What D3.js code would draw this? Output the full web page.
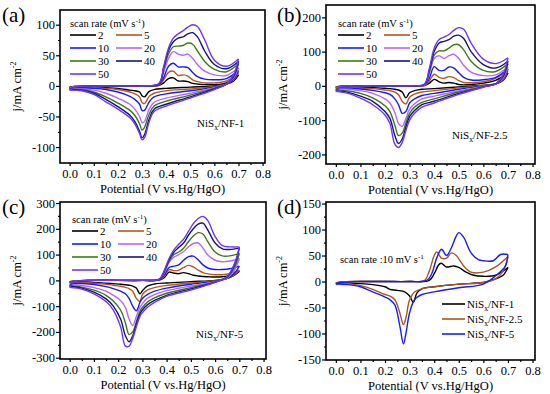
<!DOCTYPE html>
<html>
<head>
<meta charset="utf-8">
<script src="https://cdn.jsdelivr.net/npm/d3@7"></script>
<style>
body { margin: 0; background: #fff; }
svg { display: block; }
svg text { font-family: "Liberation Serif", "Times New Roman", "DejaVu Serif", serif !important; fill: #000; }
</style>
</head>
<body>
<svg id="fig" width="550" height="394"></svg>
<script>
'use strict';
// ---- data (potential in V, current density in mA cm-2) ----
var scanRates = ['2', '5', '10', '20', '30', '40', '50'];
var xTicks = [0, 0.1, 0.2, 0.3, 0.4, 0.5, 0.6, 0.7, 0.8];
var xMinor = [0.05, 0.15, 0.25, 0.35, 0.45, 0.55, 0.65, 0.75];

// (a) NiSx/NF-1
var potFwdA = [0, 0.02, 0.1, 0.2, 0.3, 0.37, 0.39, 0.41, 0.43, 0.45, 0.47, 0.49, 0.51, 0.53, 0.56, 0.6, 0.65, 0.7];
var fwdA = [
    [-2, -1, 0, 0, 0, 1, 5, 12, 13, 8, 8, 7, 4, 3, 2, 2, 5, 18],
    [-3, -1, 0, 0, 0, 1, 10, 22, 24, 17, 18, 16, 10, 7, 5, 5, 8, 22],
    [-3, -1, 0, 0, 0, 2, 14, 32, 37, 31, 31, 30, 22, 15, 11, 10, 12, 25],
    [-4, -1, 0, 0, 0, 3, 22, 45, 56, 52, 50, 52, 45, 35, 24, 18, 17, 30],
    [-5, -2, 0, 0, 0, 3, 27, 52, 64, 65, 66, 70, 68, 57, 40, 27, 23, 36],
    [-6, -2, 0, 0, 0, 3, 30, 58, 72, 78, 80, 85, 87, 80, 57, 35, 28, 40],
    [-7, -2, 0, 0, 0, 4, 32, 62, 78, 85, 90, 96, 100, 97, 75, 42, 32, 44]
];
var potRevA = [0.7, 0.68, 0.65, 0.6, 0.5, 0.4, 0.35, 0.33, 0.31, 0.3, 0.29, 0.27, 0.25, 0.2, 0.15, 0.1, 0.05, 0];
var revA = [
    [18, 8, 3, 0, -2, -4, -6, -9, -18, -16, -10, -8, -7, -4, -3, -2, -2, -2],
    [22, 10, 3, -1, -5, -8, -12, -17, -29, -27, -18, -13, -10, -6, -4, -3, -3, -3],
    [25, 11, 3, -2, -8, -13, -18, -26, -40, -40, -30, -22, -17, -10, -6, -4, -3, -3],
    [30, 13, 3, -3, -12, -20, -27, -38, -58, -60, -50, -38, -30, -20, -12, -7, -5, -4],
    [36, 15, 3, -4, -15, -25, -33, -46, -68, -72, -62, -48, -40, -28, -18, -10, -6, -5],
    [40, 16, 3, -5, -18, -30, -38, -54, -80, -85, -74, -58, -48, -34, -22, -12, -7, -6],
    [44, 18, 3, -6, -20, -33, -42, -58, -85, -88, -78, -62, -52, -38, -26, -14, -8, -7]
];

// (b) NiSx/NF-2.5
var potFwdB = [0, 0.02, 0.1, 0.2, 0.3, 0.36, 0.38, 0.40, 0.42, 0.44, 0.46, 0.48, 0.50, 0.52, 0.55, 0.6, 0.65, 0.7];
var fwdB = [
    [-3, -1, 0, 0, 0, 1, 8, 19, 12, 8, 10, 8, 4, 3, 4, 8, 16, 38],
    [-4, -1, 0, 0, 0, 1, 14, 34, 25, 22, 27, 24, 15, 10, 9, 12, 22, 45],
    [-6, -1, 0, 0, 0, 2, 22, 56, 45, 45, 55, 52, 38, 25, 17, 18, 25, 50],
    [-8, -2, 0, 0, 0, 3, 35, 80, 88, 80, 88, 92, 80, 60, 40, 30, 32, 55],
    [-11, -2, 0, 0, 0, 4, 40, 90, 102, 102, 110, 120, 120, 105, 72, 45, 42, 65],
    [-14, -3, 0, 0, 0, 4, 45, 100, 125, 130, 135, 145, 148, 138, 100, 62, 52, 72],
    [-16, -3, 0, 0, 0, 5, 50, 110, 135, 142, 150, 162, 170, 165, 125, 78, 65, 82]
];
var potRevB = [0.7, 0.68, 0.65, 0.6, 0.5, 0.4, 0.35, 0.32, 0.3, 0.285, 0.27, 0.255, 0.24, 0.22, 0.2, 0.15, 0.1, 0.05, 0];
var revB = [
    [38, 16, 6, 2, -3, -8, -10, -14, -20, -35, -18, -12, -10, -8, -7, -5, -4, -3, -3],
    [45, 18, 6, 1, -6, -14, -18, -24, -33, -53, -45, -26, -18, -14, -12, -8, -6, -5, -4],
    [50, 20, 6, 0, -10, -22, -28, -38, -50, -75, -80, -55, -38, -25, -20, -13, -9, -7, -6],
    [55, 22, 6, -1, -15, -30, -38, -52, -68, -95, -118, -110, -78, -50, -38, -22, -14, -10, -8],
    [65, 26, 6, -2, -18, -38, -48, -62, -80, -108, -138, -145, -115, -75, -58, -35, -22, -15, -11],
    [72, 28, 6, -3, -22, -45, -55, -72, -90, -120, -155, -168, -145, -95, -75, -45, -30, -19, -14],
    [82, 32, 6, -4, -25, -50, -62, -80, -100, -130, -165, -180, -170, -110, -85, -55, -36, -22, -16]
];

// (c) NiSx/NF-5
var potFwdC = [0, 0.02, 0.1, 0.2, 0.3, 0.37, 0.39, 0.41, 0.43, 0.45, 0.47, 0.49, 0.51, 0.53, 0.55, 0.57, 0.6, 0.63, 0.66, 0.7];
var fwdC = [
    [-5, -2, 0, 0, 0, 1, 10, 32, 28, 26, 30, 26, 20, 17, 15, 14, 13, 14, 18, 35],
    [-6, -2, 0, 0, 0, 2, 15, 42, 38, 40, 50, 58, 52, 40, 30, 25, 22, 22, 26, 40],
    [-10, -3, 0, 0, 0, 3, 20, 50, 55, 60, 78, 92, 94, 80, 60, 48, 42, 42, 45, 55],
    [-16, -4, 0, 0, 0, 4, 28, 70, 90, 100, 112, 130, 143, 145, 125, 98, 78, 72, 75, 85],
    [-20, -5, 0, 0, 0, 4, 32, 75, 100, 110, 125, 150, 172, 185, 180, 150, 110, 95, 95, 105],
    [-24, -6, 0, 0, 0, 5, 35, 80, 110, 128, 145, 175, 200, 218, 222, 195, 145, 122, 120, 125],
    [-27, -6, 0, 0, 0, 5, 38, 85, 118, 140, 160, 190, 220, 240, 248, 232, 170, 135, 130, 130]
];
var potRevC = [0.7, 0.68, 0.65, 0.6, 0.5, 0.4, 0.35, 0.32, 0.3, 0.29, 0.275, 0.26, 0.245, 0.23, 0.21, 0.18, 0.15, 0.1, 0.05, 0];
var revC = [
    [35, 20, 8, 0, -5, -10, -14, -22, -40, -52, -30, -22, -19, -17, -15, -13, -11, -8, -6, -5],
    [40, 22, 8, -1, -10, -20, -28, -38, -55, -82, -70, -42, -32, -27, -23, -19, -15, -11, -8, -6],
    [55, 28, 8, -3, -15, -30, -42, -55, -70, -85, -118, -100, -70, -52, -42, -32, -24, -16, -12, -10],
    [85, 40, 10, -5, -22, -40, -55, -70, -90, -105, -140, -175, -150, -105, -78, -58, -42, -28, -20, -16],
    [105, 50, 12, -6, -28, -50, -68, -85, -105, -120, -160, -200, -210, -165, -115, -80, -58, -38, -26, -20],
    [125, 60, 14, -7, -33, -58, -78, -95, -115, -130, -170, -215, -238, -215, -150, -100, -72, -46, -30, -24],
    [130, 65, 15, -8, -38, -62, -85, -105, -125, -140, -180, -225, -255, -255, -180, -115, -82, -52, -34, -27]
];

// (d) 10 mV s-1, three samples
var potFwdD1 = [0, 0.02, 0.1, 0.2, 0.3, 0.38, 0.40, 0.42, 0.43, 0.45, 0.48, 0.50, 0.53, 0.56, 0.6, 0.65, 0.7];
var fwdD1 = [-3, -1, 0, 0, 0, 2, 15, 33, 35, 28, 30, 27, 18, 12, 10, 12, 27];
var potRevD1 = [0.7, 0.68, 0.65, 0.6, 0.5, 0.4, 0.35, 0.33, 0.315, 0.3, 0.28, 0.25, 0.22, 0.2, 0.15, 0.1, 0.05, 0];
var revD1 = [27, 12, 5, -2, -5, -10, -14, -22, -40, -28, -20, -17, -15, -10, -6, -4, -3, -3];
var potFwdD2 = [0, 0.02, 0.1, 0.2, 0.3, 0.36, 0.38, 0.40, 0.41, 0.43, 0.45, 0.47, 0.49, 0.52, 0.55, 0.6, 0.65, 0.7];
var fwdD2 = [-3, -1, 0, 0, 0, 2, 20, 50, 57, 45, 45, 55, 50, 30, 18, 18, 28, 48];
var potRevD2 = [0.7, 0.68, 0.65, 0.6, 0.5, 0.4, 0.35, 0.32, 0.3, 0.285, 0.275, 0.26, 0.24, 0.22, 0.2, 0.15, 0.1, 0.05, 0];
var revD2 = [48, 20, 5, -2, -5, -10, -14, -20, -35, -70, -83, -60, -35, -28, -25, -15, -8, -4, -3];
var potFwdD3 = [0, 0.02, 0.1, 0.2, 0.3, 0.37, 0.39, 0.41, 0.43, 0.45, 0.47, 0.49, 0.50, 0.52, 0.55, 0.58, 0.6, 0.64, 0.67, 0.7];
var fwdD3 = [-5, -2, 0, 0, 0, 2, 15, 45, 62, 50, 65, 88, 94, 85, 55, 42, 40, 40, 52, 52];
var potRevD3 = [0.7, 0.69, 0.66, 0.6, 0.5, 0.4, 0.35, 0.32, 0.3, 0.285, 0.275, 0.26, 0.24, 0.22, 0.2, 0.15, 0.1, 0.05, 0];
var revD3 = [52, 30, 15, -5, -12, -20, -25, -35, -60, -100, -120, -85, -45, -35, -30, -20, -10, -6, -5];
var sampleSuffix = ['/NF-1', '/NF-2.5', '/NF-5'];

// ---- styles ----
var rateColors = ['#000000', '#b4581c', '#1a1aff', '#b866ff', '#3d7a12', '#14147e', '#6f35ff'];
var sampleColors = ['#000000', '#a8581a', '#1a1aff'];

var svg = d3.select('#fig');

function rateCurves(pf, fwd, pr, rev) {
    return scanRates.map(function (r, i) {
        return { color: rateColors[i], fE: pf, fJ: fwd[i], rE: pr, rJ: rev[i] };
    });
}

function niS(sel, suffix) {
    sel.append('tspan').text('NiS');
    sel.append('tspan').attr('dy', 3).attr('font-size', '0.7em').text('x');
    sel.append('tspan').attr('dy', -3).text(suffix);
}

function drawPanel(p) {
    var g = svg.append('g');
    var x = d3.scaleLinear().domain([-0.04, 0.81]).range([p.left, p.right]);
    var y = d3.scaleLinear().domain(p.yDomain).range([p.bottom, p.top]);
    var line = d3.line()
        .x(function (d) { return x(d[0]); })
        .y(function (d) { return y(d[1]); })
        .curve(d3.curveCatmullRom.alpha(0.5));

    p.curves.forEach(function (c) {
        [[c.fE, c.fJ], [c.rE, c.rJ]].forEach(function (br) {
            g.append('path')
                .attr('d', line(d3.zip(br[0], br[1])))
                .attr('fill', 'none')
                .attr('stroke', c.color)
                .attr('stroke-width', 1.4)
                .attr('stroke-linejoin', 'round');
        });
    });

    // axes
    var fmtX = d3.format('.1f');
    g.append('g').attr('transform', 'translate(0,' + p.bottom + ')')
        .call(d3.axisBottom(x).tickValues(xTicks).tickFormat(fmtX).tickSize(3).tickPadding(3));
    g.append('g').attr('transform', 'translate(0,' + p.bottom + ')')
        .call(d3.axisBottom(x).tickValues(xMinor).tickFormat('').tickSize(2));
    var gy = g.append('g').attr('transform', 'translate(' + p.left + ',0)')
        .call(d3.axisLeft(y).tickValues(p.yTicks).tickFormat(d3.format('d')).tickSize(4).tickPadding(1));
    g.append('g').attr('transform', 'translate(' + p.left + ',0)')
        .call(d3.axisLeft(y).tickValues(p.yMinor).tickFormat('').tickSize(2));
    g.selectAll('.domain').remove();
    g.selectAll('.tick line').attr('stroke', '#000').attr('stroke-width', 1.2);
    g.selectAll('.tick text').attr('font-size', 12.5);
    gy.selectAll('.tick text').text(function (d) { return String(d).replace('\u2212', '-'); });

    g.append('rect')
        .attr('x', p.left).attr('y', p.top)
        .attr('width', p.right - p.left).attr('height', p.bottom - p.top)
        .attr('fill', 'none').attr('stroke', '#000').attr('stroke-width', 1.6);

    // axis titles
    g.append('text')
        .attr('x', (p.left + p.right) / 2).attr('y', p.bottom + 30)
        .attr('text-anchor', 'middle').attr('font-size', 12.5)
        .text('Potential (V vs.Hg/HgO)');
    var yt = g.append('text')
        .attr('transform', 'translate(' + (p.left - 39) + ',' + ((p.top + p.bottom) / 2) + ') rotate(-90)')
        .attr('text-anchor', 'middle').attr('font-size', 12.5);
    yt.append('tspan').text('j/mA cm');
    yt.append('tspan').attr('dy', -5).attr('font-size', 8).text('-2');

    // panel letter
    g.append('text').attr('x', p.letterX).attr('y', p.letterY)
        .attr('font-size', 21).text('(' + p.letter + ')');

    if (p.legend) {
        var lg = p.legend;
        var tt = g.append('text').attr('x', lg.x).attr('y', lg.y).attr('font-size', 10.5);
        tt.append('tspan').text('scan rate (mV s');
        tt.append('tspan').attr('dy', -4).attr('font-size', 7).text('-1');
        tt.append('tspan').attr('dy', 4).text(')');
        scanRates.forEach(function (r, i) {
            var cx = lg.x + (i % 2) * lg.colGap;
            var cy = lg.y + 8 + Math.floor(i / 2) * 13;
            g.append('line').attr('x1', cx).attr('x2', cx + 26).attr('y1', cy).attr('y2', cy)
                .attr('stroke', rateColors[i]).attr('stroke-width', 1.6);
            g.append('text').attr('x', cx + 28).attr('y', cy + 4).attr('font-size', 11).text(r);
        });
    }
    if (p.sample) {
        niS(g.append('text').attr('x', p.sample.x).attr('y', p.sample.y).attr('font-size', 11), p.sample.text);
    }
    return g;
}

drawPanel({
    letter: 'a', letterX: 2, letterY: 22,
    left: 60, right: 265, top: 10, bottom: 163, yDomain: [-126, 124],
    yTicks: [-100, -50, 0, 50, 100], yMinor: [-75, -25, 25, 75],
    curves: rateCurves(potFwdA, fwdA, potRevA, revA),
    legend: { x: 70, colGap: 46, y: 27 },
    sample: { x: 197, y: 127, text: '/NF-1' }
});
drawPanel({
    letter: 'b', letterX: 277, letterY: 22,
    left: 326, right: 535, top: 5, bottom: 164, yDomain: [-228, 236],
    yTicks: [-200, -100, 0, 100, 200], yMinor: [-150, -50, 50, 150],
    curves: rateCurves(potFwdB, fwdB, potRevB, revB),
    legend: { x: 338, colGap: 46, y: 27 },
    sample: { x: 452, y: 139, text: '/NF-2.5' }
});
drawPanel({
    letter: 'c', letterX: 2, letterY: 214,
    left: 60, right: 266, top: 202, bottom: 359, yDomain: [-305, 304],
    yTicks: [-300, -200, -100, 0, 100, 200, 300], yMinor: [-250, -150, -50, 50, 150, 250],
    curves: rateCurves(potFwdC, fwdC, potRevC, revC),
    legend: { x: 72, colGap: 46, y: 223 },
    sample: { x: 196, y: 338, text: '/NF-5' }
});
var pd = drawPanel({
    letter: 'd', letterX: 277, letterY: 214,
    left: 326, right: 535, top: 202, bottom: 360, yDomain: [-151, 153],
    yTicks: [-150, -100, -50, 0, 50, 100, 150], yMinor: [-125, -75, -25, 25, 75, 125],
    curves: [
        { color: sampleColors[0], fE: potFwdD1, fJ: fwdD1, rE: potRevD1, rJ: revD1 },
        { color: sampleColors[1], fE: potFwdD2, fJ: fwdD2, rE: potRevD2, rJ: revD2 },
        { color: sampleColors[2], fE: potFwdD3, fJ: fwdD3, rE: potRevD3, rJ: revD3 }
    ]
});
var st = pd.append('text').attr('x', 340).attr('y', 263).attr('font-size', 10.5);
st.append('tspan').text('scan rate :10 mV s');
st.append('tspan').attr('dy', -4).attr('font-size', 7).text('-1');
sampleSuffix.forEach(function (s, i) {
    var cy = 304 + i * 15;
    pd.append('line').attr('x1', 442).attr('x2', 465).attr('y1', cy).attr('y2', cy)
        .attr('stroke', sampleColors[i]).attr('stroke-width', 1.6);
    niS(pd.append('text').attr('x', 467).attr('y', cy + 4).attr('font-size', 11), s);
});
</script>
</body>
</html>
